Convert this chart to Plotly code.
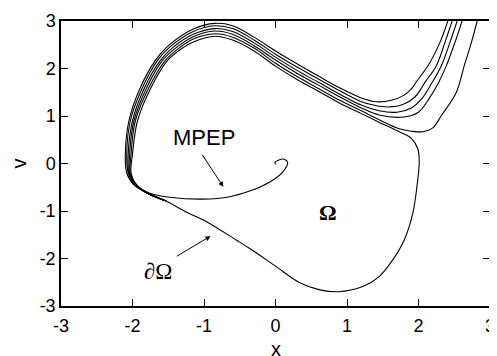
import plotly.graph_objects as go

# ─── 数据：逃逸轨道束（由外到内）────────────────────────────────────────────

ESC1_X = [-1.53, -1.81, -1.98, -2.08, -2.10, -2.05, -1.89, -1.68, -1.52, -1.15, -0.85, -0.60,
          -0.30, 0.00, 0.30, 0.60, 0.90, 1.20, 1.41, 1.62, 1.80, 1.90, 1.97, 2.15, 2.30, 2.41]
ESC1_Y = [-0.79, -0.61, -0.45, -0.20, 0.20, 0.90, 1.60, 2.17, 2.45, 2.83, 2.95, 2.90,
          2.66, 2.37, 2.10, 1.84, 1.59, 1.38, 1.30, 1.33, 1.44, 1.57, 1.72, 2.10, 2.55, 3.00]

ESC2_X = [-1.53, -1.81, -1.97, -2.06, -2.08, -2.03, -1.86, -1.65, -1.48, -1.15, -0.85, -0.60,
          -0.30, 0.00, 0.30, 0.60, 0.90, 1.20, 1.40, 1.58, 1.78, 1.95, 2.10, 2.25, 2.37, 2.47]
ESC2_Y = [-0.79, -0.61, -0.45, -0.20, 0.20, 0.90, 1.60, 2.17, 2.45, 2.78, 2.90, 2.84,
          2.60, 2.30, 2.03, 1.78, 1.53, 1.30, 1.22, 1.19, 1.24, 1.40, 1.73, 2.06, 2.55, 3.00]

ESC3_X = [-1.53, -1.81, -1.96, -2.05, -2.06, -2.00, -1.83, -1.61, -1.43, -1.15, -0.85, -0.60,
          -0.30, 0.00, 0.30, 0.60, 0.90, 1.20, 1.45, 1.70, 1.90, 2.05, 2.18, 2.32, 2.44, 2.54]
ESC3_Y = [-0.79, -0.61, -0.45, -0.20, 0.20, 0.90, 1.60, 2.17, 2.45, 2.72, 2.84, 2.78,
          2.54, 2.24, 1.96, 1.71, 1.46, 1.23, 1.11, 1.08, 1.17, 1.37, 1.68, 2.06, 2.55, 3.00]

ESC4_X = [-1.53, -1.81, -1.95, -2.04, -2.04, -1.98, -1.80, -1.58, -1.38, -1.15, -0.85, -0.60,
          -0.30, 0.00, 0.30, 0.60, 0.90, 1.20, 1.45, 1.80, 2.00, 2.15, 2.28, 2.39, 2.51, 2.61]
ESC4_Y = [-0.79, -0.61, -0.45, -0.20, 0.20, 0.90, 1.60, 2.17, 2.45, 2.67, 2.79, 2.72,
          2.48, 2.18, 1.90, 1.65, 1.40, 1.17, 1.02, 0.98, 1.08, 1.37, 1.70, 2.06, 2.55, 3.00]

ESC5_X = [-1.53, -1.81, -1.94, -2.03, -2.02, -1.96, -1.77, -1.54, -1.33, -1.15, -0.85, -0.60,
          -0.30, 0.00, 0.30, 0.60, 0.90, 1.20, 1.45, 1.73, 1.90, 2.06, 2.20, 2.32, 2.53, 2.64,
          2.74, 2.82]
ESC5_Y = [-0.79, -0.61, -0.45, -0.20, 0.20, 0.90, 1.60, 2.17, 2.45, 2.62, 2.73, 2.66,
          2.43, 2.11, 1.83, 1.58, 1.33, 1.11, 0.92, 0.73, 0.68, 0.67, 0.75, 1.01, 1.50, 2.06,
          2.55, 3.00]

# 吸引域边界 ∂Ω（闭合）
BOUNDARY_X = [-2.00, -1.93, -1.74, -1.51, -1.28, -1.15, -0.85, -0.60, -0.30, 0.00, 0.30, 0.60,
              0.90, 1.20, 1.46, 1.73, 1.90, 1.99, 2.01, 1.98, 1.92, 1.80, 1.64, 1.45, 1.22,
              0.88, 0.62, 0.34, 0.01, -0.36, -0.55, -0.97, -1.25, -1.53, -1.81, -1.95, -2.02,
              -2.00]
BOUNDARY_Y = [0.20, 0.90, 1.60, 2.17, 2.45, 2.56, 2.68, 2.60, 2.37, 2.05, 1.77, 1.52,
              1.27, 1.05, 0.86, 0.67, 0.53, 0.31, 0.03, -0.46, -1.05, -1.61, -2.03, -2.38, -2.59,
              -2.70, -2.66, -2.51, -2.17, -1.79, -1.61, -1.22, -1.02, -0.79, -0.60, -0.45, -0.20,
              0.20]

# 最可能逃逸路径 MPEP
MPEP_X = [-1.90, -1.75, -1.48, -1.02, -0.64, -0.32, -0.08, 0.10, 0.17, 0.12, 0.04, -0.01, 0.01]
MPEP_Y = [-0.52, -0.63, -0.71, -0.75, -0.70, -0.56, -0.39, -0.18, 0.02, 0.09, 0.07, 0.02, -0.02]

TICK_VALS = [-3, -2, -1, 0, 1, 2, 3]
TICK_TEXT = ["-3", "-2", "-1", "0", "1", "2", "3"]

SANS = "Liberation Sans, Arial, Helvetica, sans-serif"
SERIF = "Liberation Serif, Times New Roman, serif"

# ─── 绘图 ────────────────────────────────────────────────────────────────────

fig = go.Figure()

curves = [(ESC1_X, ESC1_Y), (ESC2_X, ESC2_Y), (ESC3_X, ESC3_Y), (ESC4_X, ESC4_Y),
          (ESC5_X, ESC5_Y), (BOUNDARY_X, BOUNDARY_Y), (MPEP_X, MPEP_Y)]
for xs, ys in curves:
    fig.add_trace(go.Scatter(
        x=xs, y=ys, mode="lines",
        line=dict(color="black", width=1.1, shape="spline", smoothing=1.0),
        showlegend=False, hoverinfo="skip",
    ))

# 文字与箭头
fig.add_annotation(x=-1.0, y=0.55, text="MPEP", showarrow=False,
                   font=dict(family=SANS, size=22, color="black"))
fig.add_annotation(x=-0.73, y=-0.49, ax=-1.04, ay=0.22, axref="x", ayref="y",
                   text="", showarrow=True, arrowhead=2, arrowsize=1, arrowwidth=1,
                   arrowcolor="black")
fig.add_annotation(x=-1.65, y=-2.28, text="∂Ω", showarrow=False,
                   font=dict(family=SERIF, size=23, color="black"))
fig.add_annotation(x=-0.91, y=-1.53, ax=-1.40, ay=-1.97, axref="x", ayref="y",
                   text="", showarrow=True, arrowhead=2, arrowsize=1, arrowwidth=1,
                   arrowcolor="black")
fig.add_annotation(x=0.74, y=-1.04, text="<b>Ω</b>", showarrow=False,
                   font=dict(family=SERIF, size=22, color="black"))

# x 轴标题：关闭 automargin 时 standoff 不生效，改用 annotation 定位
fig.add_annotation(x=0.5, y=-0.152, xref="paper", yref="paper", text="x",
                   showarrow=False, yanchor="middle",
                   font=dict(family=SANS, size=20, color="black"))

axis_style = dict(
    range=[-3, 3], tickvals=TICK_VALS, ticktext=TICK_TEXT,
    ticks="inside", ticklen=7, tickwidth=1, tickcolor="black",
    showline=True, linecolor="black", linewidth=1.5,
    mirror="ticks", showgrid=False, zeroline=False, automargin=False,
    tickfont=dict(family=SANS, size=18, color="black"),
)
fig.update_xaxes(**axis_style, ticklabelstandoff=3)
fig.update_yaxes(**axis_style, ticklabelstandoff=0,
                 title=dict(text="v", standoff=11,
                            font=dict(family=SANS, size=20, color="black")))

# 页面 body 自带 8px 外边距，图尺寸与边距据此扣除
fig.update_layout(
    width=489, height=348,
    margin=dict(l=53, r=7, t=13, b=50),
    plot_bgcolor="white", paper_bgcolor="white",
)

fig.write_html("out.html")
